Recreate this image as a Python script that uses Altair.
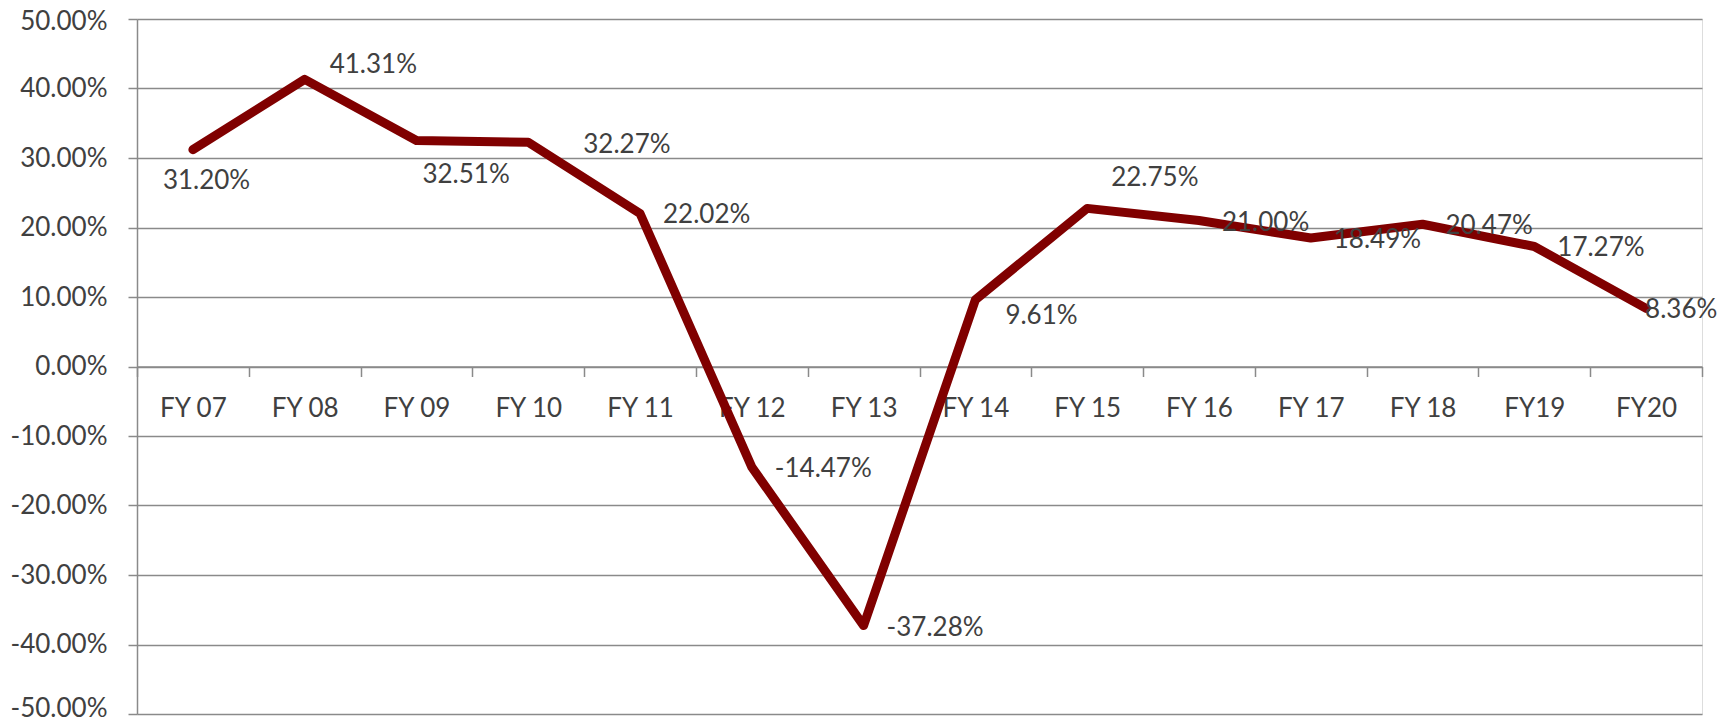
import altair as alt
import pandas as pd

categories = ["FY 07", "FY 08", "FY 09", "FY 10", "FY 11", "FY 12", "FY 13",
              "FY 14", "FY 15", "FY 16", "FY 17", "FY 18", "FY19", "FY20"]
growth = [31.20, 41.31, 32.51, 32.27, 22.02, -14.47, -37.28,
          9.61, 22.75, 21.00, 18.49, 20.47, 17.27, 8.36]
y_ticks = [-50, -40, -30, -20, -10, 0, 10, 20, 30, 40, 50]

df = pd.DataFrame({"cat": categories, "val": growth})
df["label"] = [f"{v:.2f}%" for v in growth]

FONT = "Lato"
TEXT = "#404040"
GRID = "#8a8a8a"
LINE = "#800000"
FS = 26
H = 695

xenc = alt.X("cat:N", sort=categories, bandPosition=0.5,
             scale=alt.Scale(type="band", paddingInner=0, paddingOuter=0),
             axis=alt.Axis(title=None, grid=False, offset=-H / 2, tickBand="extent",
                           labelAngle=0, labelFont=FONT, labelFontSize=FS, labelColor=TEXT,
                           tickSize=10, tickColor=GRID, tickWidth=1.5,
                           domainColor=GRID, domainWidth=1.5, labelPadding=19))
yenc = alt.Y("val:Q", scale=alt.Scale(domain=[-50, 50], nice=False),
             axis=alt.Axis(title=None, values=y_ticks,
                           labelExpr="replace(format(datum.value, '.2f'), '\u2212', '-') + '%'",
                           labelFont=FONT, labelFontSize=FS, labelColor=TEXT,
                           labelOffset={"condition": [
                               {"test": "datum.value == -50", "value": -6},
                               {"test": "datum.value == 50", "value": 2}],
                               "value": 0},
                           grid=True, gridColor=GRID, gridWidth=1.5,
                           tickSize=9, tickColor=GRID, tickWidth=1.5,
                           domainColor=GRID, domainWidth=1.5, labelPadding=21))

base = alt.Chart(df)
line = base.mark_line(color=LINE, strokeWidth=9, strokeCap="round", strokeJoin="round").encode(
    x=xenc, y=yenc)

special = {
    "FY 07": (-30, 31),
    "FY 08": (25, -14),
    "FY 09": (6, 34),
    "FY 10": (55, 3),
    "FY 14": (30, 16),
    "FY 15": (24, -30),
    "FY20": (-1, 2),
}
default_cats = [c for c in categories if c not in special]

def text_layer(cats, dx, dy):
    return base.transform_filter(
        alt.FieldOneOfPredicate(field="cat", oneOf=cats)
    ).mark_text(align="left", baseline="middle", dx=dx, dy=dy,
                font=FONT, fontSize=FS, color=TEXT).encode(
        x=alt.X("cat:N", sort=categories, bandPosition=0.5),
        y=alt.Y("val:Q"), text="label:N")

layers = [line, text_layer(default_cats, 23, 2)]
for c, (dx, dy) in special.items():
    layers.append(text_layer([c], dx, dy))

chart = alt.layer(*layers).properties(
    width=1565, height=H, autosize="none",
    padding={"left": 129, "top": 11, "right": 20, "bottom": 5},
).configure_view(stroke=None).configure(background="white")

chart.save("out.html", embed_options={"renderer": "svg", "actions": False})
